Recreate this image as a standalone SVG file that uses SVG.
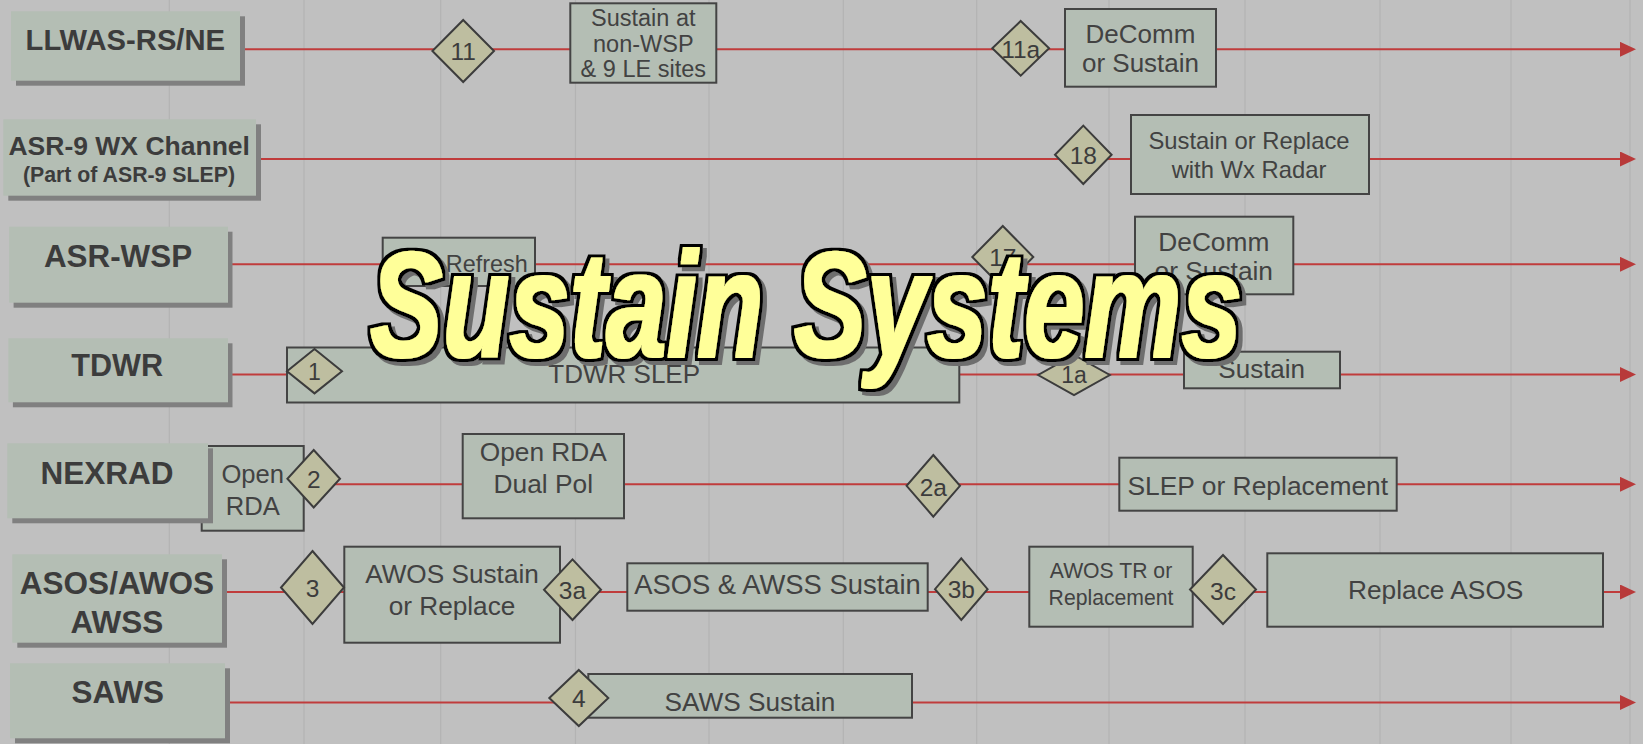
<svg xmlns="http://www.w3.org/2000/svg" width="1643" height="744" viewBox="0 0 1643 744">
<style>
  .bg{fill:#c0c0c0}
  .grid{stroke:#b3b3b3;stroke-width:1.2}
  .conn{stroke:#c03c3c;stroke-width:2;fill:none}
  .lbl{fill:#b4beb4}
  .shd{fill:#808080}
  .lt{font-family:"Liberation Sans",Arial,sans-serif;font-weight:bold;fill:#3c3c3c;text-anchor:middle}
  .box{fill:#b4beb4;stroke:#444;stroke-width:2}
  .bt{font-family:"Liberation Sans",Arial,sans-serif;fill:#424242;text-anchor:middle}
  .dia{fill:#bebea0;stroke:#3c3c3c;stroke-width:2}
  .dt{font-family:"Liberation Sans",Arial,sans-serif;fill:#3c3c3c;text-anchor:middle}
  .title{font-family:"Liberation Sans Narrow","Liberation Sans",Arial,sans-serif;font-weight:bold;font-style:italic;font-size:151px;fill:#000}
</style>
<defs>
  <marker id="arr" markerUnits="userSpaceOnUse" markerWidth="17" markerHeight="16" refX="1" refY="7.5" orient="auto">
    <path d="M0,0 L16,7.5 L0,15 z" fill="#b83a3a"/>
  </marker>
  <filter id="ttl" filterUnits="userSpaceOnUse" x="330" y="200" width="960" height="220">
    <feMorphology in="SourceAlpha" operator="dilate" radius="1.4" result="fatA"/>
    <feMorphology in="SourceAlpha" operator="dilate" radius="3.8" result="outA"/>
    <feFlood flood-color="#ffff99" result="yc"/>
    <feComposite in="yc" in2="fatA" operator="in" result="yellow"/>
    <feFlood flood-color="#000000" result="kc"/>
    <feComposite in="kc" in2="outA" operator="in" result="black"/>
    <feOffset in="outA" dx="4" dy="4" result="shA"/>
    <feFlood flood-color="#6e6e6e" result="gc"/>
    <feComposite in="gc" in2="shA" operator="in" result="shadow"/>
    <feMerge>
      <feMergeNode in="shadow"/>
      <feMergeNode in="black"/>
      <feMergeNode in="yellow"/>
    </feMerge>
  </filter>
</defs>
<rect class="bg" x="0" y="0" width="1643" height="744"/>
<g id="grid">
  <line class="grid" x1="169.3" y1="0" x2="169.3" y2="744"/>
  <line class="grid" x1="304" y1="0" x2="304" y2="744"/>
  <line class="grid" x1="440.7" y1="0" x2="440.7" y2="744"/>
  <line class="grid" x1="575.5" y1="0" x2="575.5" y2="744"/>
  <line class="grid" x1="709" y1="0" x2="709" y2="744"/>
  <line class="grid" x1="843.3" y1="0" x2="843.3" y2="744"/>
  <line class="grid" x1="976.7" y1="0" x2="976.7" y2="744"/>
  <line class="grid" x1="1109" y1="0" x2="1109" y2="744"/>
  <line class="grid" x1="1245" y1="0" x2="1245" y2="744"/>
  <line class="grid" x1="1380" y1="0" x2="1380" y2="744"/>
  <line class="grid" x1="1511" y1="0" x2="1511" y2="744"/>
  <line class="grid" x1="1630" y1="0" x2="1630" y2="744"/>
</g>
<g id="connectors">
  <line class="conn" x1="245" y1="49.3" x2="1621" y2="49.3" marker-end="url(#arr)"/>
  <line class="conn" x1="260" y1="159" x2="1621" y2="159" marker-end="url(#arr)"/>
  <line class="conn" x1="232" y1="264.3" x2="1621" y2="264.3" marker-end="url(#arr)"/>
  <line class="conn" x1="232" y1="374.5" x2="1621" y2="374.5" marker-end="url(#arr)"/>
  <line class="conn" x1="300" y1="484.3" x2="1621" y2="484.3" marker-end="url(#arr)"/>
  <line class="conn" x1="227" y1="592" x2="1621" y2="592" marker-end="url(#arr)"/>
  <line class="conn" x1="230" y1="702.5" x2="1621" y2="702.5" marker-end="url(#arr)"/>
</g>
<!-- row 1 -->
<g id="llwas">
  <rect class="shd" x="16" y="16.3" width="229" height="69.4"/>
  <rect class="lbl" x="11" y="11.3" width="229" height="69.4"/>
  <text class="lt" x="125.3" y="50" font-size="29.2">LLWAS-RS/NE</text>
</g>
<g id="sustain-non-wsp">
  <rect class="box" x="570.3" y="3.3" width="146" height="79.4"/>
  <text class="bt" x="643.3" y="26" font-size="23.5">Sustain at</text>
  <text class="bt" x="643.3" y="51.7" font-size="23.5">non-WSP</text>
  <text class="bt" x="643.3" y="76.7" font-size="23.5">&amp; 9 LE sites</text>
</g>
<g id="m11">
  <polygon class="dia" points="463.2,20 494,51 463.2,82 432.4,51"/>
  <text class="dt" x="463.2" y="60" font-size="24.5">11</text>
</g>
<g id="m11a">
  <polygon class="dia" points="1020.7,21 1049.1,48.3 1020.7,75.6 992.3,48.3"/>
  <text class="dt" x="1020.7" y="57.5" font-size="24.5">11a</text>
</g>
<g id="decomm1">
  <rect class="box" x="1065" y="9" width="151" height="77.7"/>
  <text class="bt" x="1140.5" y="43.3" font-size="26">DeComm</text>
  <text class="bt" x="1140.5" y="71.7" font-size="26">or Sustain</text>
</g>
<!-- row 2 -->
<g id="asr9">
  <rect class="shd" x="8.3" y="124.3" width="252.7" height="76.4"/>
  <rect class="lbl" x="3.3" y="119.3" width="252.7" height="76.4"/>
  <text class="lt" x="129.2" y="155" font-size="26.5">ASR-9 WX Channel</text>
  <text class="lt" x="129" y="181.7" font-size="21.3">(Part of ASR-9 SLEP)</text>
</g>
<g id="m18">
  <polygon class="dia" points="1083.3,125.6 1111.6,154.8 1083.3,184 1055,154.8"/>
  <text class="dt" x="1083.3" y="164" font-size="24.5">18</text>
</g>
<g id="sustain-replace-wx">
  <rect class="box" x="1131" y="115" width="238" height="79"/>
  <text class="bt" x="1249" y="149" font-size="23.8">Sustain or Replace</text>
  <text class="bt" x="1249" y="177.7" font-size="23.8">with Wx Radar</text>
</g>
<!-- row 3 -->
<g id="asrwsp">
  <rect class="shd" x="13.6" y="231.7" width="218.9" height="76"/>
  <rect class="lbl" x="9.1" y="226.7" width="218.9" height="76"/>
  <text class="lt" x="118" y="266.7" font-size="31.4">ASR-WSP</text>
</g>
<g id="tech-refresh">
  <rect class="box" x="382.7" y="237.7" width="152.3" height="48.3"/>
  <text class="bt" x="458.8" y="271.7" font-size="23.4">Tech Refresh</text>
</g>
<g id="m17">
  <polygon class="dia" points="1002.8,226 1033.3,257 1002.8,288 972.3,257"/>
  <text class="dt" x="1002.8" y="266" font-size="24.5">17</text>
</g>
<g id="decomm2">
  <rect class="box" x="1135" y="216.7" width="158.3" height="77.6"/>
  <text class="bt" x="1213.8" y="250.7" font-size="26.3">DeComm</text>
  <text class="bt" x="1213.8" y="280" font-size="26.3">or Sustain</text>
</g>
<!-- row 4 -->
<g id="tdwr">
  <rect class="shd" x="12.9" y="343.3" width="219.6" height="64"/>
  <rect class="lbl" x="8.4" y="338.3" width="219.6" height="64"/>
  <text class="lt" x="117.2" y="375.7" font-size="30.6">TDWR</text>
</g>
<g id="tdwr-slep">
  <rect class="box" x="287" y="347.5" width="672.3" height="55"/>
  <text class="bt" x="624.2" y="383.3" font-size="26">TDWR SLEP</text>
</g>
<g id="m1">
  <polygon class="dia" points="314.5,349 342,371.2 314.5,393.4 287,371.2"/>
  <text class="dt" x="314.5" y="380" font-size="23">1</text>
</g>
<g id="m1a">
  <polygon class="dia" points="1074,355 1109.8,375 1074,395 1038.2,375"/>
  <text class="dt" x="1074" y="383" font-size="23">1a</text>
</g>
<g id="sustain-tdwr">
  <rect class="box" x="1184" y="351.7" width="156" height="36.6"/>
  <text class="bt" x="1261.7" y="378.3" font-size="26">Sustain</text>
</g>
<!-- row 5 -->
<g id="open-rda">
  <rect class="box" x="201.7" y="446" width="102" height="84.7"/>
  <text class="bt" x="252.7" y="482.7" font-size="25.6">Open</text>
  <text class="bt" x="252.7" y="515" font-size="25.6">RDA</text>
</g>
<g id="nexrad">
  <rect class="shd" x="12.3" y="448.3" width="200.7" height="75"/>
  <rect class="lbl" x="7.3" y="443.3" width="200.7" height="75"/>
  <text class="lt" x="107" y="484" font-size="31.5">NEXRAD</text>
</g>
<g id="m2">
  <polygon class="dia" points="313.7,450 340,478.7 313.7,507.4 287.4,478.7"/>
  <text class="dt" x="313.7" y="488.3" font-size="24.5">2</text>
</g>
<g id="open-rda-dual-pol">
  <rect class="box" x="462.7" y="434" width="161.3" height="84.3"/>
  <text class="bt" x="543.3" y="460.7" font-size="26.3">Open RDA</text>
  <text class="bt" x="543.3" y="492.7" font-size="26.3">Dual Pol</text>
</g>
<g id="m2a">
  <polygon class="dia" points="933.3,455 960,485.8 933.3,516.6 906.6,485.8"/>
  <text class="dt" x="933.3" y="496" font-size="24.5">2a</text>
</g>
<g id="slep-replacement">
  <rect class="box" x="1119.3" y="457.7" width="277.4" height="53"/>
  <text class="bt" x="1257.8" y="495" font-size="26.4">SLEP or Replacement</text>
</g>
<!-- row 6 -->
<g id="asos">
  <rect class="shd" x="17.3" y="559.3" width="209.7" height="88.4"/>
  <rect class="lbl" x="12.3" y="554.3" width="209.7" height="88.4"/>
  <text class="lt" x="117" y="594" font-size="31.5">ASOS/AWOS</text>
  <text class="lt" x="117" y="633" font-size="31.5">AWSS</text>
</g>
<g id="awos-sustain">
  <rect class="box" x="344.3" y="546.7" width="215.7" height="96"/>
  <text class="bt" x="452" y="583.3" font-size="26.2">AWOS Sustain</text>
  <text class="bt" x="452" y="615" font-size="26.2">or Replace</text>
</g>
<g id="m3">
  <polygon class="dia" points="312.5,551 344,587.5 312.5,624 281,587.5"/>
  <text class="dt" x="312.5" y="596.7" font-size="24.5">3</text>
</g>
<g id="m3a">
  <polygon class="dia" points="572.5,559.4 601,589.7 572.5,620 544,589.7"/>
  <text class="dt" x="572.5" y="599.3" font-size="24.5">3a</text>
</g>
<g id="asos-awss-sustain">
  <rect class="box" x="627.3" y="563.3" width="300.4" height="47.4"/>
  <text class="bt" x="777.5" y="594" font-size="27.4">ASOS &amp; AWSS Sustain</text>
</g>
<g id="m3b">
  <polygon class="dia" points="961.3,558.4 987.6,589.2 961.3,620 935,589.2"/>
  <text class="dt" x="961.3" y="598.3" font-size="24.5">3b</text>
</g>
<g id="awos-tr">
  <rect class="box" x="1029.3" y="546.7" width="163.4" height="80"/>
  <text class="bt" x="1111" y="578.3" font-size="21.2">AWOS TR or</text>
  <text class="bt" x="1111" y="605" font-size="21.2">Replacement</text>
</g>
<g id="m3c">
  <polygon class="dia" points="1223,555 1256,589.5 1223,624 1190,589.5"/>
  <text class="dt" x="1223" y="600" font-size="24.5">3c</text>
</g>
<g id="replace-asos">
  <rect class="box" x="1267.3" y="553.3" width="335.7" height="73.4" stroke-width="2.5"/>
  <text class="bt" x="1435.7" y="599.3" font-size="26.3">Replace ASOS</text>
</g>
<!-- row 7 -->
<g id="saws">
  <rect class="shd" x="15" y="668.3" width="215" height="75"/>
  <rect class="lbl" x="10" y="663.3" width="215" height="75"/>
  <text class="lt" x="117.8" y="703.3" font-size="31.4">SAWS</text>
</g>
<g id="saws-sustain">
  <rect class="box" x="588.3" y="674" width="323.7" height="43.7"/>
  <text class="bt" x="750" y="710.7" font-size="26.2">SAWS Sustain</text>
</g>
<g id="m4">
  <polygon class="dia" points="578.8,670 608.3,698 578.8,726 549.3,698"/>
  <text class="dt" x="578.8" y="707.3" font-size="24.5">4</text>
</g>
<!-- title -->
<g id="title">
  <text class="title" x="370" y="356.7" textLength="872" lengthAdjust="spacingAndGlyphs" filter="url(#ttl)">Sustain Systems</text>
</g>
</svg>
